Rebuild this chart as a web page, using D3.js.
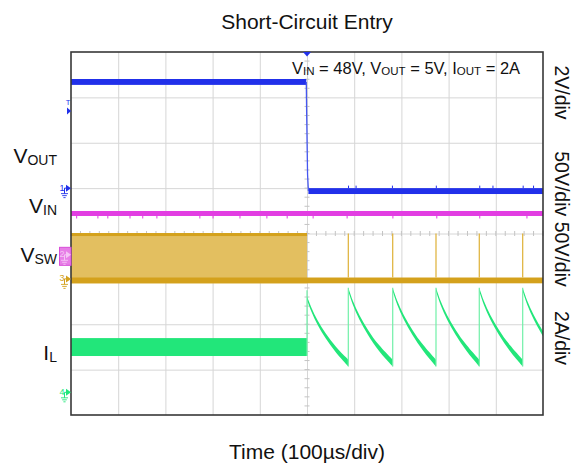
<!DOCTYPE html>
<html>
<head>
<meta charset="utf-8">
<script src="https://cdn.jsdelivr.net/npm/d3@7"></script>
<style>
	body { margin: 0; background: #fff; }
	svg { display: block; font-family: "Liberation Sans", Arial, sans-serif; }
</style>
</head>
<body>
<svg id="chart" width="582" height="467"></svg>
<script>
// scope settings
var timeDomain = [-500, 500];              // µs, 100µs/div
var divDomain = [-4, 4];                   // 8 vertical divisions
var groundDiv = [1.0, -0.47, -1.0, -3.5];  // ch1..ch4 ground markers (div from centre)
var unitsPerDiv = [2, 50, 50, 2];          // V, V, V, A
var scaleLabels = ["2V/div", "50V/div 50V/div", "2A/div"];
var triggerTime = 0;
var triggerLevel = 3.4;                    // V on ch1

// traces, bands are [t0, t1, lo, hi]
var voutBands = [[-500, -1.5, 4.55, 4.81], [3, 500, -0.26, 0.0]];
var voutEdge = [[-1.5, 4.68], [-0.8, 3.4], [1.2, 0.6], [3, -0.13]];
var voutGlitches = [88, 104, 181, 274, 366, 394, 458, 480];
var vinBands = [[-500, 500, 42.8, 48.3]];
var vinGlitches = [-488, -443, -422, -375, -348, -318, -227, -199, -142, -85, -42, 13, 85, 182, 275, 366, 466];
var vswBurst = [[-500, 0, -4.9, 50.5]];
var vswBase = [[-500, 500, -4.9, 1.5]];
var vswPulses = [87.5, 181.6, 273.3, 365, 457];
var vswPulseTop = 50;
var ilBands = [[-500, 0, 1.6, 2.39]];
var ilStep = 4.5;
// inductor current after the short, each cycle is a list of [t, lo, hi]
var ilCycles = [
	[[0, 4.07, 4.23], [9, 3.55, 3.73], [22, 2.96, 3.16], [39, 2.38, 2.6], [61, 1.73, 1.99], [87.5, 1.14, 1.44]],
	[[87.5, 4.45, 4.61], [96.5, 3.86, 4.04], [110.5, 3.2, 3.4], [128.5, 2.54, 2.76], [151.5, 1.81, 2.07], [181.6, 1.14, 1.44]],
	[[181.6, 4.45, 4.61], [190.6, 3.86, 4.04], [204.6, 3.2, 3.4], [222.6, 2.54, 2.76], [245.6, 1.81, 2.07], [273.3, 1.14, 1.44]],
	[[273.3, 4.45, 4.61], [282.3, 3.86, 4.04], [296.3, 3.2, 3.4], [314.3, 2.54, 2.76], [337.3, 1.81, 2.07], [365, 1.14, 1.44]],
	[[365, 4.45, 4.61], [374, 3.86, 4.04], [388, 3.2, 3.4], [406, 2.54, 2.76], [429, 1.81, 2.07], [457, 1.14, 1.44]],
	[[457, 4.45, 4.61], [466, 3.86, 4.04], [480, 3.2, 3.4], [498, 2.54, 2.76], [500, 2.47, 2.69]]
];

var colors = {
	blue: "#2130ea", blueEdge: "#4657f0",
	magenta: "#e23de2",
	gold: "#d4a11c", goldFill: "#e3bf60", goldPulse: "#deb035",
	green: "#22e67a", greenEdge: "#70f0a8",
	grid: "#d6d6d6", frame: "#383838"
};

// plot frame (window.top is reserved, so no plain "top")
var plotL = 71, plotR = 543, plotT = 52, plotB = 415;
var svg = d3.select("#chart");
var x = d3.scaleLinear().domain(timeDomain).range([plotL, plotR]);
var yDiv = d3.scaleLinear().domain(divDomain).range([plotB, plotT]);
function yCh(ch, v) {
	return yDiv(groundDiv[ch] + v / unitsPerDiv[ch]);
}

// grid through axes
svg.append("g")
	.attr("transform", "translate(0," + plotB + ")")
	.call(d3.axisBottom(x).tickValues(d3.range(-400, 401, 100)).tickSize(-(plotB - plotT)).tickFormat(""))
	.call(function(g) {
		g.select(".domain").remove();
		g.selectAll("line").attr("stroke", colors.grid);
	});
svg.append("g")
	.attr("transform", "translate(" + plotL + ",0)")
	.call(d3.axisLeft(yDiv).tickValues(d3.range(-3, 4, 1)).tickSize(-(plotR - plotL)).tickFormat(""))
	.call(function(g) {
		g.select(".domain").remove();
		g.selectAll("line").attr("stroke", colors.grid);
	});

// minor ticks on the centre lines
var minor = svg.append("g").attr("stroke", "#c4c4c4");
d3.range(-500, 501, 20).forEach(function(t) {
	minor.append("line").attr("x1", x(t)).attr("x2", x(t))
		.attr("y1", yDiv(0) - 2.5).attr("y2", yDiv(0) + 2.5);
});
d3.range(-4, 4.01, 0.2).forEach(function(d) {
	minor.append("line").attr("x1", x(0) - 2.5).attr("x2", x(0) + 2.5)
		.attr("y1", yDiv(d)).attr("y2", yDiv(d));
});

function drawBands(ch, bands, color) {
	svg.append("g").selectAll("rect").data(bands).join("rect")
		.attr("x", function(d) { return x(d[0]); })
		.attr("width", function(d) { return x(d[1]) - x(d[0]); })
		.attr("y", function(d) { return yCh(ch, d[3]); })
		.attr("height", function(d) { return yCh(ch, d[2]) - yCh(ch, d[3]); })
		.attr("fill", color);
}

// VIN
drawBands(1, vinBands, colors.magenta);
svg.append("g").attr("stroke", colors.magenta).attr("stroke-width", 1)
	.selectAll("line").data(vinGlitches).join("line")
	.attr("x1", function(d) { return x(d); }).attr("x2", function(d) { return x(d); })
	.attr("y1", yCh(1, vinBands[0][2])).attr("y2", yCh(1, vinBands[0][2]) + 2.5);

// VSW
drawBands(2, vswBurst, colors.goldFill);
svg.append("g").selectAll("rect").data(vswBurst).join("rect")
	.attr("x", function(d) { return x(d[0]); })
	.attr("width", function(d) { return x(d[1]) - x(d[0]); })
	.attr("y", function(d) { return yCh(2, d[3]); })
	.attr("height", 3)
	.attr("fill", colors.gold);
drawBands(2, vswBase, colors.gold);
svg.append("g").attr("stroke", colors.goldPulse).attr("stroke-width", 1.2)
	.selectAll("line").data(vswPulses).join("line")
	.attr("x1", function(d) { return x(d); }).attr("x2", function(d) { return x(d); })
	.attr("y1", yCh(2, vswBase[0][3])).attr("y2", yCh(2, vswPulseTop));

// VOUT
drawBands(0, voutBands, colors.blue);
svg.append("path").datum(voutEdge)
	.attr("d", d3.line().x(function(d) { return x(d[0]); }).y(function(d) { return yCh(0, d[1]); }))
	.attr("fill", "none").attr("stroke", colors.blueEdge).attr("stroke-width", 1.3);
svg.append("g").attr("stroke", colors.blue).attr("stroke-width", 1)
	.selectAll("line").data(voutGlitches).join("line")
	.attr("x1", function(d) { return x(d); }).attr("x2", function(d) { return x(d); })
	.attr("y1", yCh(0, voutBands[1][3])).attr("y2", yCh(0, voutBands[1][3]) - 2.5);

// IL
drawBands(3, ilBands, colors.green);
var ilArea = d3.area()
	.x(function(d) { return x(d[0]); })
	.y0(function(d) { return yCh(3, d[1]); })
	.y1(function(d) { return yCh(3, d[2]); })
	.curve(d3.curveBasis);
svg.append("g").selectAll("path").data(ilCycles).join("path")
	.attr("d", ilArea).attr("fill", colors.green);
var rises = ilCycles.map(function(c, i) {
	var from = i == 0 ? ilBands[0][2] : ilCycles[i - 1][ilCycles[i - 1].length - 1][1];
	var to = i == 0 ? ilStep : c[0][2];
	return [c[0][0], from, to];
});
svg.append("g").attr("stroke", colors.greenEdge).attr("stroke-width", 1.2)
	.selectAll("line").data(rises).join("line")
	.attr("x1", function(d) { return x(d[0]); }).attr("x2", function(d) { return x(d[0]); })
	.attr("y1", function(d) { return yCh(3, d[1]); }).attr("y2", function(d) { return yCh(3, d[2]); });

// frame
svg.append("rect").attr("x", plotL).attr("y", plotT)
	.attr("width", plotR - plotL).attr("height", plotB - plotT)
	.attr("fill", "none").attr("stroke", colors.frame).attr("stroke-width", 1.6);

// trigger position marker
svg.append("path")
	.attr("d", "M" + (x(triggerTime) - 4) + "," + plotT + "L" + (x(triggerTime) + 4) + "," + plotT + "L" + x(triggerTime) + "," + (plotT + 4.5) + "Z")
	.attr("fill", colors.blue);

// channel ground markers
function groundMarker(ch, symColor) {
	var y = yCh(ch, 0);
	var g = svg.append("g").attr("stroke", symColor).attr("fill", symColor);
	g.append("text").text(ch + 1).attr("x", 62).attr("y", y + 2.5)
		.attr("font-size", 9).attr("text-anchor", "middle").attr("stroke", "none");
	g.append("path").attr("d", "M66,0L71,3.5L66,7Z").attr("transform", "translate(0," + (y - 3.5) + ")").attr("stroke", "none");
	g.append("line").attr("x1", 64.5).attr("x2", 67).attr("y1", y).attr("y2", y).attr("stroke-width", 1);
	g.append("line").attr("x1", 64.5).attr("x2", 64.5).attr("y1", y).attr("y2", y + 5.5).attr("stroke-width", 1);
	[[3.5, 5.5], [2.3, 7.5], [1.1, 9.5]].forEach(function(b) {
		g.append("line").attr("x1", 64.5 - b[0]).attr("x2", 64.5 + b[0])
			.attr("y1", y + b[1]).attr("y2", y + b[1]).attr("stroke-width", 0.9);
	});
}
svg.append("rect").attr("x", 59.5).attr("y", yCh(1, 0) - 7.5).attr("width", 11.5).attr("height", 18)
	.attr("fill", "#e77ee7").attr("stroke", "#d84ed8").attr("stroke-width", 1);
groundMarker(0, colors.blue);
groundMarker(1, "#f4c4f4");
groundMarker(2, colors.gold);
groundMarker(3, colors.green);

// trigger level marker
var ty = yCh(0, triggerLevel);
svg.append("text").text("T").attr("x", 68).attr("y", ty - 6).attr("font-size", 7.5)
	.attr("text-anchor", "middle").attr("fill", colors.blue);
svg.append("path").attr("d", "M67,0L71,3.5L67,7Z").attr("transform", "translate(0," + (ty - 3.5) + ")")
	.attr("fill", colors.blue);

// texts
svg.append("text").text("Short-Circuit Entry")
	.attr("x", 307).attr("y", 28.5).attr("font-size", 21).attr("text-anchor", "middle").attr("fill", "#111");
svg.append("text").text("Time (100µs/div)")
	.attr("x", 307).attr("y", 459).attr("font-size", 21).attr("text-anchor", "middle").attr("fill", "#111");

function subText(xp, yp, parts, big, small, anchor) {
	var t = svg.append("text").attr("x", xp).attr("y", yp).attr("fill", "#111")
		.attr("text-anchor", anchor || "start").attr("font-size", big);
	var shifted = false;
	parts.forEach(function(p) {
		var sub = p[1];
		var span = t.append("tspan").text(p[0]);
		if (sub && !shifted) { span.attr("font-size", small).attr("dy", 1.8); shifted = true; }
		else if (!sub && shifted) { span.attr("dy", -1.8); shifted = false; }
		else if (sub) span.attr("font-size", small);
	});
	return t;
}

var leftLabels = [["V", "OUT", 163], ["V", "IN", 212.7], ["V", "SW", 261.7], ["I", "L", 360]];
leftLabels.forEach(function(l) {
	subText(57, l[2], [[l[0], false], [l[1], true]], 21, 14, "end");
});

subText(292, 73.5, [["V", false], ["IN", true], [" = 48V, V", false], ["OUT", true],
	[" = 5V, I", false], ["OUT", true], [" = 2A", false]], 16.5, 11.5, "start");

var rightLabelY = [92.5, 219, 338];
scaleLabels.forEach(function(s, i) {
	svg.append("text").text(s)
		.attr("transform", "translate(555," + rightLabelY[i] + ") rotate(90)")
		.attr("font-size", 19.5).attr("text-anchor", "middle").attr("fill", "#111");
});
</script>
</body>
</html>
